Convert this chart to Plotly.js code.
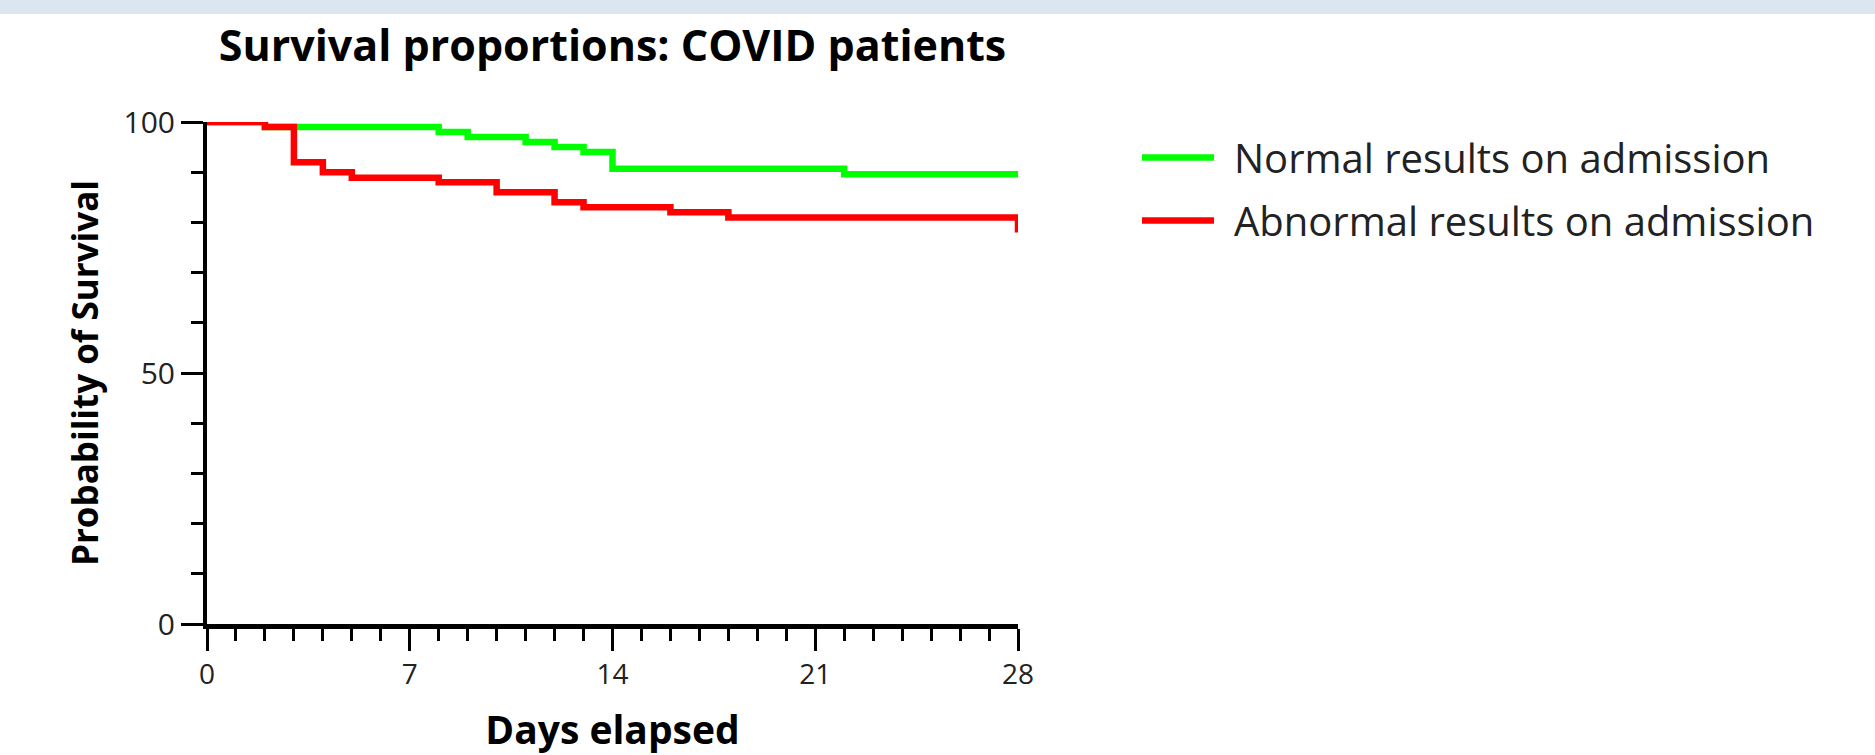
<!DOCTYPE html>
<html>
<head>
<meta charset="utf-8">
<script src="https://cdn.plot.ly/plotly-3.0.1.min.js"></script>
<style>
html, body { margin: 0; padding: 0; background: #ffffff; }
#chart { width: 1875px; height: 755px; }
</style>
</head>
<body>
<div id="chart"></div>
<script>
// ---- data ----
const chartTitle = 'Survival proportions: COVID patients';
const xAxisTitle = 'Days elapsed';
const yAxisTitle = 'Probability of Survival';
const seriesNames = ['Normal results on admission', 'Abnormal results on admission'];
const normalDays = [0, 2, 8, 9, 11, 12, 13, 14, 22, 28];
const normalSurvival = [100, 99, 98, 97, 96, 95, 94, 90.7, 89.6, 89.6];
const abnormalDays = [0, 2, 3, 4, 5, 8, 10, 12, 13, 16, 18, 28];
const abnormalSurvival = [100, 99, 92, 90, 88.9, 88, 86, 84, 83, 82, 81, 78];
const xTickVals = [0, 7, 14, 21, 28];
const xTickText = ['0', '7', '14', '21', '28'];
const yTickVals = [0, 50, 100];
const yTickText = ['0', '50', '100'];

// ---- layout geometry ----
const W = 1875, H = 755;
const L = 207, R = 857, T = 122, B = 131;
const PW = W - L - R, PH = H - T - B;

const traces = [
  {
    x: normalDays, y: normalSurvival, name: seriesNames[0],
    type: 'scatter', mode: 'lines', line: { shape: 'hv', color: '#00ff00', width: 6.5 },
    cliponaxis: false, legendgroup: 'g1'
  },
  {
    x: abnormalDays, y: abnormalSurvival, name: seriesNames[1],
    type: 'scatter', mode: 'lines', line: { shape: 'hv', color: '#ff0000', width: 6.5 },
    cliponaxis: false, legendgroup: 'g2'
  }
];

const tickFontY = { family: 'Open Sans, sans-serif', size: 30, color: '#222222' };
const tickFontX = { family: 'Open Sans, sans-serif', size: 28, color: '#222222' };
const boldFont = (s) => ({ family: 'Open Sans, sans-serif', size: s, color: '#000000', weight: 700 });

const layout = {
  width: W, height: H,
  margin: { l: L, r: R, t: T, b: B, pad: 0 },
  paper_bgcolor: '#ffffff', plot_bgcolor: '#ffffff',
  font: { family: 'Open Sans, sans-serif', color: '#000000' },
  title: {
    text: chartTitle, font: boldFont(43),
    xref: 'paper', x: 0.5, xanchor: 'center',
    yref: 'container', y: 1 - 46 / H, yanchor: 'middle'
  },
  xaxis: {
    range: [0, 28], tickmode: 'array', tickvals: xTickVals, ticktext: xTickText,
    ticks: 'outside', ticklen: 22, tickwidth: 3, tickcolor: '#000000',
    showline: true, linewidth: 4.5, linecolor: '#000000',
    showgrid: false, zeroline: false, tickfont: tickFontX,
    minor: { tick0: 0, dtick: 1, ticks: 'outside', ticklen: 12, tickwidth: 3, tickcolor: '#000000', showgrid: false },
    title: { text: xAxisTitle, font: boldFont(39), standoff: 29 },
    fixedrange: true
  },
  yaxis: {
    range: [0, 100], tickmode: 'array', tickvals: yTickVals, ticktext: yTickText,
    ticks: 'outside', ticklen: 22, tickwidth: 3, tickcolor: '#000000',
    showline: true, linewidth: 4, linecolor: '#000000',
    showgrid: false, zeroline: false, tickfont: tickFontY,
    minor: { tick0: 0, dtick: 10, ticks: 'outside', ticklen: 12, tickwidth: 3, tickcolor: '#000000', showgrid: false },
    title: { text: yAxisTitle, font: boldFont(35), standoff: 15 },
    fixedrange: true
  },
  showlegend: true,
  legend: {
    xref: 'container', yref: 'container',
    x: 1137 / W, xanchor: 'left',
    y: 1 - 125 / H, yanchor: 'top',
    font: { family: 'Open Sans, sans-serif', size: 40, color: '#222222' },
    itemwidth: 72, tracegroupgap: 8,
    bgcolor: 'rgba(0,0,0,0)', borderwidth: 0
  },
  shapes: [
    {
      type: 'rect', xref: 'paper', yref: 'paper', layer: 'below',
      x0: -L / PW, x1: (W - L) / PW,
      y0: (PH + T - 14) / PH, y1: (PH + T) / PH,
      fillcolor: '#dce6f1', line: { width: 0 }
    }
  ]
};

Plotly.newPlot('chart', traces, layout, { staticPlot: true, displayModeBar: false }).then(function () {
  // widen the gap between the legend line sample and its label, as in the reference
  document.querySelectorAll('#chart .legendtext').forEach(function (t) {
    const x0 = parseFloat(t.getAttribute('x')) || 0;
    t.setAttribute('x', x0 + 15);
  });
  // let the shifted labels show in full
  document.querySelectorAll('#chart .legend .scrollbox, #chart .legend').forEach(function (el) {
    el.removeAttribute('clip-path');
  });
});
</script>
</body>
</html>
